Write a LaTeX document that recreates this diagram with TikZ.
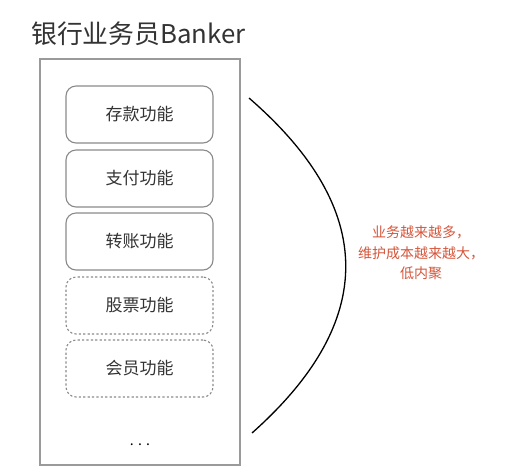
\documentclass[tikz,border=0pt]{standalone}
\usepackage{fontspec}
\setmainfont{Noto Sans CJK SC}
\definecolor{boxgray}{HTML}{8A8A8A}
\definecolor{framegray}{HTML}{9A9A9A}
\definecolor{txtgray}{HTML}{333333}
\definecolor{noteRed}{HTML}{D4553A}
\begin{document}
\begin{tikzpicture}[x=1pt,y=-1pt,
  func/.style={draw=boxgray,line width=1.1pt,rounded corners=10pt,minimum width=147pt,minimum height=57pt,inner sep=0pt,font=\fontsize{17}{19}\selectfont,text=txtgray},
  funcnew/.style={func,dash pattern=on 2.2pt off 2.2pt},
  frame/.style={draw=framegray,line width=1.6pt}]
\useasboundingbox (0,0) rectangle (506,475);
\node[font=\fontsize{25.8}{28}\selectfont,text=txtgray] (title) at (138.5,34) {银行业务员Banker};
\draw[frame] (40,59) rectangle (240,465);
\node[func] (f1) at (139.5,114.5) {存款功能};
\node[func] (f2) at (139.5,178.5) {支付功能};
\node[func] (f3) at (139.5,241.5) {转账功能};
\node[funcnew] (f4) at (139.5,305.5) {股票功能};
\node[funcnew] (f5) at (139.5,368.5) {会员功能};
\node[font=\fontsize{14}{16}\selectfont,text=black] (dots) at (140,445) {. . .};
\coordinate (cs) at (249,98);
\coordinate (ce) at (252,433);
\draw[line width=1.3pt,black] (cs) .. controls (377,209) and (378,321) .. (ce);
\node[font=\fontsize{14}{20.5}\selectfont,text=noteRed,align=center] (note) at (421,253) {业务越来越多，\\维护成本越来越大，\\低内聚};
\end{tikzpicture}
\end{document}
